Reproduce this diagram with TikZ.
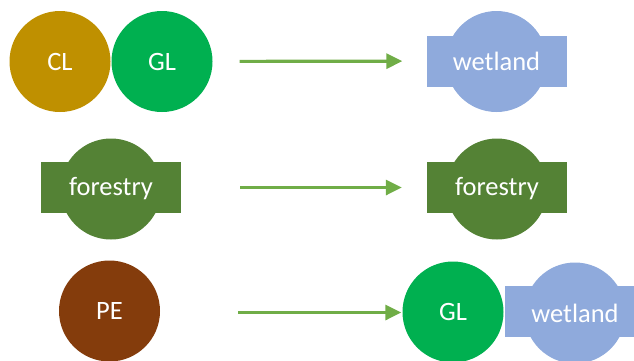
\documentclass[tikz,border=0pt]{standalone}
\usepackage{fontspec}
\setmainfont{Carlito}
\usetikzlibrary{arrows.meta}
\usetikzlibrary{positioning}
\definecolor{clgold}{HTML}{BF9000}
\definecolor{glgreen}{HTML}{00B050}
\definecolor{wetblue}{HTML}{8FAADC}
\definecolor{forgreen}{HTML}{548235}
\definecolor{pebrown}{HTML}{843C0C}
\definecolor{flowgreen}{HTML}{70AD47}
\tikzset{land/.style = {circle, draw = none, minimum size = 101pt, inner sep = 0,
                        text = white, font = \fontsize{26.5}{30}\selectfont}}
\tikzset{bar/.style = {rectangle, draw = none, minimum width = 140pt,
                       minimum height = 51pt, inner sep = 0}}
\tikzset{flow/.style = {draw = flowgreen, line width = 3.2pt,
                        -{Triangle[length=16pt, width=15pt]}}}

\begin{document}
\begin{tikzpicture}[x=1pt, y=-1pt]
      \useasboundingbox (0, 0) rectangle (634, 360);
      % top row
      \node [land, fill = clgold] (cl) at (60, 61.5) {CL};
      \node [land, fill = glgreen] (gl) at (162, 61.5) {GL};
      \node [bar, fill = wetblue] (wetbar) at (496.5, 61) {};
      \node [land, fill = wetblue] (wet) at (496.5, 61.5) {wetland};
      \draw [flow, shorten <= 27pt, shorten >= 24pt] (gl) -- (wetbar);
      % middle row
      \node [bar, fill = forgreen] (forbar) at (111, 187.5) {};
      \node [land, fill = forgreen] (for) at (111, 189) {forestry};
      \node [bar, fill = forgreen] (forbartwo) at (497, 187.5) {};
      \node [land, fill = forgreen] (fortwo) at (497, 189) {forestry};
      \draw [flow, shorten <= 59pt, shorten >= 25pt] (forbar) -- (forbartwo);
      % bottom row
      \node [land, fill = pebrown] (pe) at (109.5, 311) {PE};
      \node [land, fill = glgreen] (gltwo) at (453, 312) {GL};
      \node [bar, fill = wetblue] (wetbartwo) at (575, 311.5) {};
      \node [land, fill = wetblue] (wettwo) at (575, 313) {wetland};
      \draw [flow, shorten <= 78pt, shorten >= 1pt] (pe.east |- 0, 312.5) -- (gltwo.west |- 0, 312.5);
    \end{tikzpicture}
\end{document}
